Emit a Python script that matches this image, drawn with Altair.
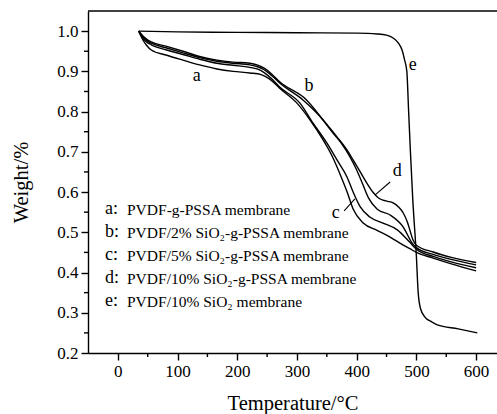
import altair as alt
import pandas as pd

# ---------------- data ----------------
temp_a = [35, 38, 42, 48, 56, 82, 109, 137, 166, 193, 221, 240, 255, 271, 300, 322, 344, 360, 372, 384, 394, 411, 434, 456, 478, 493, 500, 528, 560, 600]
weight_a = [1.0, 0.99, 0.978, 0.965, 0.953, 0.94, 0.928, 0.916, 0.906, 0.90, 0.896, 0.892, 0.880, 0.858, 0.821, 0.779, 0.729, 0.686, 0.645, 0.600, 0.558, 0.523, 0.505, 0.488, 0.468, 0.456, 0.450, 0.436, 0.421, 0.404]

temp_b = [35, 38, 42, 48, 56, 82, 109, 137, 166, 193, 221, 233, 245, 258, 271, 310, 339, 360, 375, 389, 400, 410, 420, 434, 456, 478, 493, 500, 528, 560, 600]
weight_b = [1.0, 0.993, 0.985, 0.977, 0.97, 0.958, 0.946, 0.934, 0.925, 0.92, 0.916, 0.912, 0.904, 0.889, 0.871, 0.829, 0.787, 0.747, 0.72, 0.687, 0.655, 0.62, 0.585, 0.558, 0.543, 0.513, 0.473, 0.462, 0.445, 0.432, 0.419]

temp_c = [35, 38, 42, 48, 56, 82, 109, 137, 166, 193, 221, 233, 245, 258, 271, 305, 327, 350, 367, 384, 394, 406, 422, 444, 468, 489, 500, 528, 560, 600]
weight_c = [1.0, 0.992, 0.982, 0.973, 0.966, 0.953, 0.942, 0.93, 0.92, 0.915, 0.91, 0.906, 0.897, 0.881, 0.861, 0.821, 0.771, 0.722, 0.68, 0.637, 0.6, 0.563, 0.538, 0.523, 0.506, 0.475, 0.458, 0.440, 0.426, 0.412]

temp_d = [35, 38, 42, 48, 56, 82, 109, 137, 166, 193, 221, 233, 245, 258, 271, 316, 344, 367, 384, 394, 406, 417, 427, 436, 444, 452, 461, 470, 478, 485, 489, 494, 500, 528, 560, 600]
weight_d = [1.0, 0.995, 0.988, 0.98, 0.973, 0.962, 0.95, 0.937, 0.928, 0.923, 0.92, 0.916, 0.908, 0.893, 0.874, 0.829, 0.779, 0.737, 0.704, 0.68, 0.65, 0.622, 0.6, 0.586, 0.58, 0.577, 0.573, 0.563, 0.548, 0.525, 0.506, 0.482, 0.468, 0.451, 0.437, 0.425]

temp_e = [35, 100, 200, 300, 400, 434, 450, 461, 470, 476, 480, 484, 487, 490, 494, 500, 503, 507, 514, 525, 535, 570, 602]
weight_e = [1.0, 0.998, 0.997, 0.996, 0.995, 0.993, 0.99, 0.983, 0.97, 0.953, 0.93, 0.90, 0.80, 0.70, 0.58, 0.44, 0.35, 0.31, 0.29, 0.278, 0.27, 0.26, 0.25]

series_letters = ["a", "b", "c", "d", "e"]
series_names = [
    "PVDF-g-PSSA membrane",
    "PVDF/2% SiO\u2082-g-PSSA membrane",
    "PVDF/5% SiO\u2082-g-PSSA membrane",
    "PVDF/10% SiO\u2082-g-PSSA membrane",
    "PVDF/10% SiO\u2082 membrane",
]

x_ticks = [0, 100, 200, 300, 400, 500, 600]
x_minor = [50, 150, 250, 350, 450, 550]
y_ticks = [0.2, 0.3, 0.4, 0.5, 0.6, 0.7, 0.8, 0.9, 1.0]
y_minor = [0.25, 0.35, 0.45, 0.55, 0.65, 0.75, 0.85, 0.95]

# curve label annotations (data coordinates)
label_T = [132, 320, 365, 468, 494]
label_W = [0.888, 0.863, 0.548, 0.652, 0.916]
# leader lines for c and d
leader_T = [379, 456]
leader_W = [0.553, 0.625]
leader_T2 = [397, 431]
leader_W2 = [0.583, 0.593]

# ---------------- build tables ----------------
rows = []
for s, ts, ws in zip(series_letters, [temp_a, temp_b, temp_c, temp_d, temp_e],
                     [weight_a, weight_b, weight_c, weight_d, weight_e]):
    for t, w in zip(ts, ws):
        rows.append({"series": s, "T": t, "W": w})
curves = pd.DataFrame(rows)

W_PX, H_PX = 409, 342
FONT = "Liberation Serif"
xscale = alt.Scale(domain=[-50, 635], nice=False, zero=False)
yscale = alt.Scale(domain=[0.2, 1.05], nice=False, zero=False)

X_AXIS = alt.Axis(values=x_ticks, format="d", grid=False, tickSize=7, labelPadding=3, titlePadding=14)
Y_AXIS = alt.Axis(values=y_ticks, format=".1f", grid=False, tickSize=7, labelPadding=3, titlePadding=25)


def xe():
    return alt.X("T:Q", scale=xscale, title="Temperature/\u00b0C", axis=X_AXIS)


def ye():
    return alt.Y("W:Q", scale=yscale, title="Weight/%", axis=Y_AXIS)


lines = alt.Chart(curves).mark_line(color="black", strokeWidth=1.4, interpolate="monotone").encode(
    x=xe(), y=ye(), detail="series:N",
)

ymin = alt.Chart(pd.DataFrame({"W": y_minor})).mark_rule(color="black", strokeWidth=1.4).encode(
    y=ye(), x=alt.value(-4), x2=alt.value(0))
xmin = alt.Chart(pd.DataFrame({"T": x_minor})).mark_rule(color="black", strokeWidth=1.4).encode(
    x=xe(), y=alt.value(H_PX), y2=alt.value(H_PX + 4))

top_border = alt.Chart(pd.DataFrame({"k": [0]})).mark_rule(color="black", strokeWidth=1.4).encode(
    x=alt.value(0), x2=alt.value(W_PX), y=alt.value(0))

labels = alt.Chart(pd.DataFrame({"T": label_T, "W": label_W, "lab": series_letters})).mark_text(
    font=FONT, fontSize=18, color="black", baseline="middle", align="center").encode(
    x=xe(), y=ye(), text="lab:N")

leaders = alt.Chart(pd.DataFrame({"T": leader_T, "W": leader_W, "T2": leader_T2, "W2": leader_W2})).mark_rule(
    color="black", strokeWidth=1.1).encode(
    x=xe(), y=ye(), x2="T2:Q", y2="W2:Q")

# legend text block
leg_top, leg_step = 0.558, 0.057
leg = pd.DataFrame({
    "letter": [l + ":" for l in series_letters],
    "name": series_names,
    "W": [leg_top - i * leg_step for i in range(5)],
})
leg_letters = alt.Chart(leg).mark_text(font=FONT, fontSize=18, color="black", align="left",
                                       baseline="middle").encode(
    x=alt.value(17), y=ye(), text="letter:N")
leg_names = alt.Chart(leg).mark_text(font=FONT, fontSize=15.5, color="black", align="left",
                                     baseline="middle", dy=1).encode(
    x=alt.value(39), y=ye(), text="name:N")

chart = alt.layer(lines, ymin, xmin, top_border, leaders, labels, leg_letters, leg_names).properties(
    width=W_PX, height=H_PX,
    autosize=alt.AutoSizeParams(type="none"),
    padding={"left": 88, "top": 11, "right": 0, "bottom": 61},
    background="white",
).configure_view(stroke=None).configure_axis(
    domainColor="black", domainWidth=1.4, tickColor="black", tickWidth=1.4,
    labelFont=FONT, labelFontSize=17, labelColor="black",
    titleFont=FONT, titleFontSize=20.5, titleFontWeight="normal", titleColor="black",
)

chart.save("out.html", embed_options={"renderer": "svg", "actions": False})
